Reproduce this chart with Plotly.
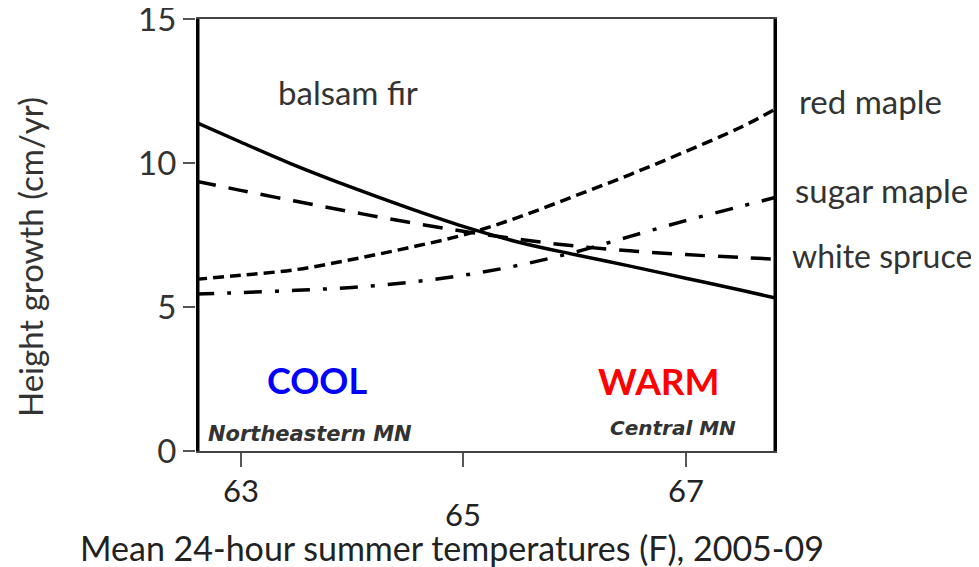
import plotly.graph_objects as go

# ---- data ----
temps = [62.6, 63.0, 63.5, 64.0, 64.5, 65.0, 65.5, 66.0, 66.5, 67.0, 67.5, 67.82]
balsam_fir = [11.41, 10.73, 9.90, 9.15, 8.45, 7.80, 7.25, 6.82, 6.42, 6.00, 5.58, 5.30]
red_maple = [5.96, 6.10, 6.30, 6.65, 7.05, 7.50, 8.12, 8.85, 9.60, 10.40, 11.25, 11.90]
sugar_maple = [5.45, 5.50, 5.58, 5.68, 5.85, 6.10, 6.45, 6.90, 7.45, 8.00, 8.50, 8.82]
white_spruce = [9.37, 9.05, 8.67, 8.30, 7.95, 7.63, 7.35, 7.12, 6.95, 6.82, 6.72, 6.66]

x_ticks = [63, 65, 67]
y_ticks = [0, 5, 10, 15]
x_range = [62.6, 67.82]
y_range = [0, 15]

FONT = "Lato"
OFF = 8  # page body margin
W, H = 979 - OFF, 567 - OFF
# plot area in screen pixels: x 196..777, y 19..451
L, T = 196 - OFF, 19 - OFF
R, B = W - (777 - OFF), H - (451 - OFF)
PW, PH = W - L - R, H - T - B


def px(x):
    return (x - OFF - L) / PW


def py(y):
    return (H - B - (y - OFF)) / PH


fig = go.Figure()
series = [
    ("balsam fir", balsam_fir, "solid"),
    ("red maple", red_maple, "11px,6px"),
    ("sugar maple", sugar_maple, "18px,13px,4px,13px"),
    ("white spruce", white_spruce, "20px,13px"),
]
for name, vals, dash in series:
    fig.add_trace(go.Scatter(x=temps, y=vals, mode="lines", name=name,
                             line=dict(color="black", width=3.5, dash=dash, shape="spline", smoothing=1.0),
                             showlegend=False, cliponaxis=False))

# thick vertical borders
for xv in x_range:
    fig.add_shape(type="line", xref="x", yref="y", x0=xv, x1=xv, y0=0, y1=15,
                  line=dict(color="black", width=7), layer="above")

fig.update_layout(
    width=W, height=H,
    margin=dict(l=L, r=R, t=T, b=B, pad=0, autoexpand=False),
    paper_bgcolor="white", plot_bgcolor="white",
    font=dict(family=FONT, color="#333333"),
    xaxis=dict(range=x_range, tickvals=x_ticks, showticklabels=False,
               ticks="outside", ticklen=14, tickwidth=2, tickcolor="#555555",
               showline=True, linecolor="#444444", linewidth=2, mirror=True,
               showgrid=False, zeroline=False, fixedrange=True),
    yaxis=dict(range=y_range, tickvals=y_ticks, ticktext=[str(v) for v in y_ticks],
               ticks="outside", ticklen=12, tickwidth=2, tickcolor="#555555",
               tickfont=dict(size=33, color="#333333", family=FONT),
               ticklabeloverflow="allow",
               showline=False, showgrid=False, zeroline=False, fixedrange=True),
)

ann = []
# staggered x tick labels
for xv, ypix in zip(x_ticks, [490, 514, 490]):
    ann.append(dict(x=xv, xref="x", y=py(ypix), yref="paper", text=str(xv), showarrow=False,
                    font=dict(size=31, color="#222222", family=FONT), xanchor="center", yanchor="middle"))
ann += [
    dict(x=px(30), y=py(257), text="Height growth (cm/yr)", textangle=-90,
         font=dict(size=33, color="#333333")),
    dict(x=px(452), y=py(547), text="Mean 24-hour summer temperatures (F), 2005-09",
         font=dict(size=34, color="#222222")),
    dict(x=px(348), y=py(92), text="balsam fir", font=dict(size=33, color="#333333")),
    dict(x=px(797), y=py(101), text="red maple", xanchor="left", font=dict(size=33, color="#333333")),
    dict(x=px(793), y=py(190), text="sugar maple", xanchor="left", font=dict(size=33, color="#333333")),
    dict(x=px(790), y=py(255), text="white spruce", xanchor="left", font=dict(size=32, color="#333333")),
    dict(x=px(317), y=py(380), text="<b>COOL</b>", font=dict(size=36, color="#0000ff")),
    dict(x=px(659), y=py(380), text="<b>WARM</b>", font=dict(size=37, color="#ff0000")),
    dict(x=px(206), y=py(434), text="<b><i>Northeastern MN</i></b>", xanchor="left",
         font=dict(size=21, color="#333333", family="DejaVu Sans")),
    dict(x=px(673), y=py(428), text="<b><i>Central MN</i></b>",
         font=dict(size=20, color="#333333", family="DejaVu Sans")),
]
for a in ann:
    a.setdefault("xref", "paper")
    a.setdefault("yref", "paper")
    a.setdefault("showarrow", False)
    a.setdefault("xanchor", "center")
    a.setdefault("yanchor", "middle")
fig.update_layout(annotations=ann)

fig.write_html("out.html")
